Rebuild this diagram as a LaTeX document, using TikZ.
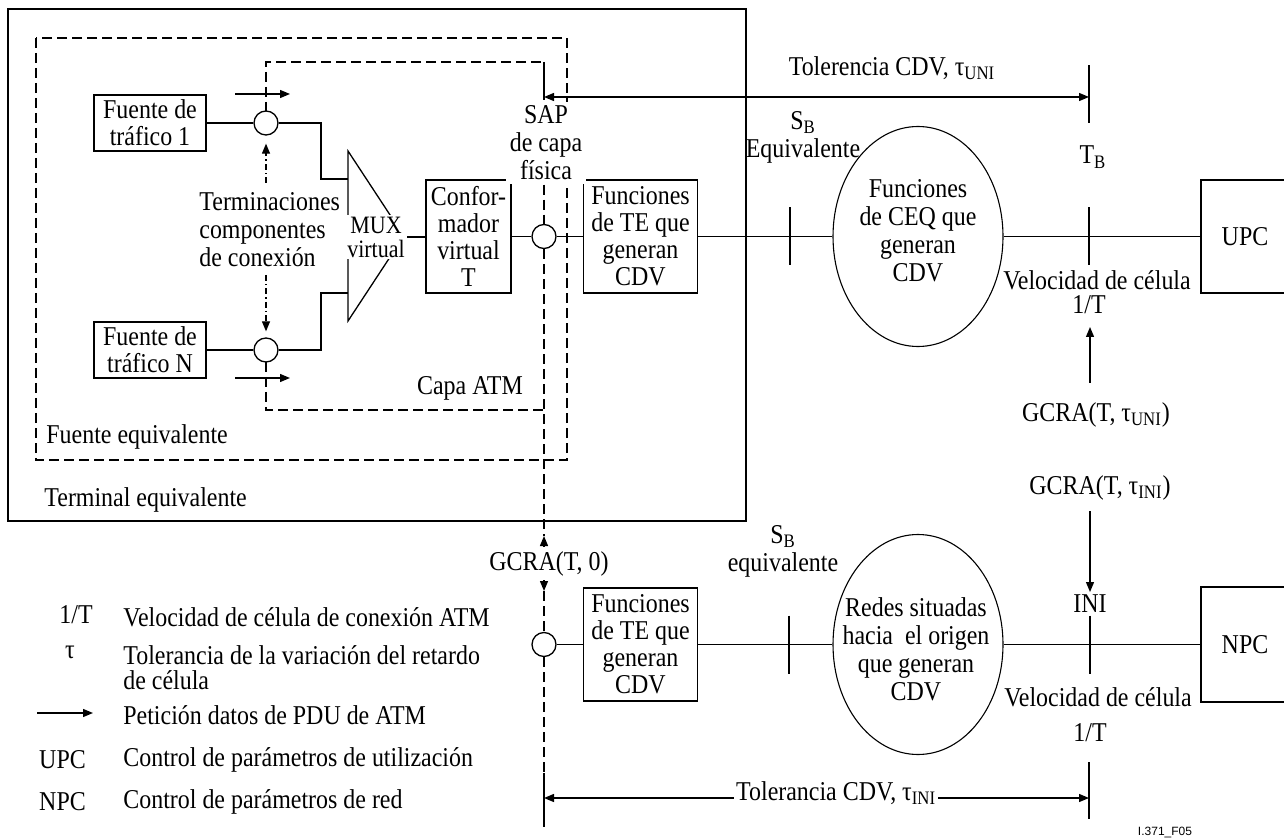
\documentclass[tikz,border=0pt]{standalone}
\usepackage{fontspec}
\setmainfont{Liberation Serif}[FakeStretch=0.88]
\newfontfamily\codefont{Liberation Sans}
\usetikzlibrary{arrows.meta,shapes.geometric,positioning}

\begin{document}
\begin{tikzpicture}[x=0.5pt,y=-0.5pt,>={Triangle[length=5pt,width=4pt]},
    font=\fontsize{13.6}{14}\selectfont,
    wire/.style={line width=0.65pt},
    box/.style={draw,line width=0.65pt,inner sep=1pt,align=center,font=\fontsize{13.6}{13.5}\selectfont},
    junction/.style={draw,circle,line width=0.65pt,minimum size=12pt,inner sep=0pt,fill=white},
    cloud/.style={draw,ellipse,line width=0.55pt,minimum width=85pt,minimum height=110pt,inner sep=0pt},
    refline/.style={line width=1.4pt},
    layer/.style={line width=1pt,dash pattern=on 5pt off 2.5pt},
    hint/.style={line width=0.6pt,dash pattern=on 3pt off 1.5pt on 0.7pt off 1.5pt},
    lbl/.style={inner sep=1pt,align=center}]

\useasboundingbox (0,0) rectangle (1284,839);

% ===== EQUIVALENT TERMINAL / SOURCE FRAMES =====
\draw[wire] (8,9) rectangle (746,521);
\draw[layer] (36,38) rectangle (567,460);
% ATM layer frame
\draw[layer] (541,62) -- (266,62) -- (266,111);
\draw[layer] (266,362) -- (266,410) -- (544,410);
\draw[line width=1pt] (544,62) -- (544,100);

\node[lbl,anchor=west] (fueq) at (44,437) {Fuente equivalente};
\node[lbl] (capa) at (470,388) {Capa ATM};
\node[lbl,anchor=west] (termeq) at (42,500) {Terminal equivalente};

% ===== TRAFFIC SOURCES =====
\node[box,minimum width=56pt,minimum height=28pt] (src1) at (150,123) {Fuente de\\tráfico 1};
\node[box,minimum width=56pt,minimum height=28pt] (srcN) at (150,350) {Fuente de\\tráfico N};
\node[junction] (c1) at (266,123) {};
\node[junction] (cN) at (266,350) {};

\coordinate (muxin1) at (348,179);
\coordinate (muxin2) at (348,293);
\draw[wire] (src1) -- (c1);
\draw[wire] (c1) -- ++(55,0) |- (muxin1);
\draw[wire] (srcN) -- (cN);
\draw[wire] (cN) -- ++(55,0) |- (muxin2);

% request arrows
\coordinate (req1) at (235,94);
\coordinate (req2) at (235,378);
\draw[wire,->] (req1) -- ++(55,0);
\draw[wire,->] (req2) -- ++(55,0);

\node[lbl,anchor=west,align=left] (term) at (197,230) {Terminaciones\\componentes\\de conexión};
\coordinate (hint1) at (266,183);
\coordinate (hint2) at (266,275);
\draw[hint,->,shorten >=4pt] (hint1) -- (c1.south);
\draw[hint,->,shorten >=3pt] (hint2) -- (cN.north);

% ===== MUX AND SHAPER =====
\draw[wire] (348,151) -- (394,221) -- (394,251) -- (348,321) -- cycle;
\node[lbl,fill=white,font=\fontsize{12.5}{12}\selectfont] (mux) at (376,237) {MUX\\virtual};

\node[box,minimum width=42.5pt,minimum height=56.5pt] (conf) at (468.5,236.5) {Confor-\\mador\\virtual\\T};
\draw[wire] (mux.east) -- (mux.east -| conf.west);

\node[junction] (c3) at (544,236.5) {};
\node[box,minimum width=57pt,minimum height=56.5pt] (fte1) at (640.5,236.5) {Funciones\\de TE que\\generan\\CDV};
\draw[wire] (conf) -- (c3);
\draw[wire] (c3) -- (fte1);

\node[lbl,fill=white,inner sep=2pt] (sap) at (546,143) {SAP\\de capa\\física};

% ===== PHYSICAL LAYER SAP LINE =====
\coordinate (up0) at (544,536);
\coordinate (up0b) at (544,546);
\coordinate (dn0) at (544,591);
\coordinate (dn0b) at (544,580);
\draw[layer] (sap.south -| c3) -- (c3);
\draw[layer] (c3) -- (up0);
\node[lbl] (gcra0) at (549,564) {GCRA(T, 0)};
\draw[wire,->] (up0b) -- (up0);
\draw[wire,->] (dn0b) -- (dn0);

% ===== UNI SIDE =====
\coordinate (sb1) at (790,236.5);
\coordinate (tb1) at (1089,236.5);
\node[cloud] (ceq1) at (918,236.5) {};
\node[lbl] at (918,231) {Funciones\\de CEQ que\\generan\\CDV};
\node[box,minimum width=44pt,minimum height=56.5pt] (upc) at (1245,236.5) {UPC};
\draw[wire] (fte1) -- (ceq1);
\draw[wire] (ceq1) -- (upc);
\draw[refline] (sb1) ++(0,-29) -- ++(0,58);
\draw[refline] (tb1) ++(0,-29) -- ++(0,58);

\node[lbl] (sb1lbl) at (803,137) {S\textsubscript{B}\\Equivalente};
\node[lbl] (tb1lbl) at (1093,157) {T\textsubscript{B}};

\coordinate (sapref) at (544,97);
\coordinate (tolU) at (1089,97);
\draw[refline] (tolU) ++(0,-31.5) -- ++(0,57.5);
\draw[wire,<->] (sapref) -- (tolU);
\node[lbl] (tolUlbl) at (892,68) {Tolerencia CDV, τ\textsubscript{UNI}};

\node[lbl] (vel1) at (1097,280) {Velocidad de célula};
\node[lbl] (rate1) at (1089,305) {1/T};
\node[lbl] (gcrauni) at (1096,415) {GCRA(T, τ\textsubscript{UNI})};
\node[lbl] (gcraini) at (1100,488) {GCRA(T, τ\textsubscript{INI})};
\coordinate (unifrom) at (1090,383);
\coordinate (unito) at (1090,327);
\draw[wire,->] (unifrom) -- (unito);

% ===== INI SIDE =====
\node[lbl] (ini) at (1090,604) {INI};
\coordinate (inifrom) at (1090,511);
\coordinate (inito) at (1090,592);
\draw[wire,->] (inifrom) -- (inito);

\node[junction] (c4) at (544,644.5) {};
\node[box,minimum width=57pt,minimum height=56.5pt] (fte2) at (640.5,644.5) {Funciones\\de TE que\\generan\\CDV};
\node[cloud] (red) at (918,644.5) {};
\node[lbl] at (916,649) {Redes situadas\\hacia~ el origen\\que generan\\CDV};
\node[box,minimum width=44pt,minimum height=57.5pt] (npc) at (1245,644.5) {NPC};
\draw[layer] (dn0) -- (c4);
\draw[wire] (c4) -- (fte2);
\draw[wire] (fte2) -- (red);
\draw[wire] (red) -- (npc);

\coordinate (sb2) at (789,644.5);
\coordinate (ini2) at (1090,644.5);
\draw[refline] (sb2) ++(0,-29) -- ++(0,58);
\draw[refline] (ini2) ++(0,-29) -- ++(0,58);

\node[lbl] (sb2lbl) at (783,551.5) {S\textsubscript{B}\\equivalente};
\node[lbl] (vel2) at (1098,697) {Velocidad de célula};
\node[lbl] (rate2) at (1090,733) {1/T};

% bottom tolerance
\coordinate (tolL) at (544,798);
\coordinate (tolR) at (1089,798);
\draw[layer] (c4) -- ++(0,128.5);
\draw[refline] (tolL) ++(0,-25) -- ++(0,54);
\draw[refline] (tolR) ++(0,-36) -- ++(0,56.5);
\draw[wire,<->] (tolL) -- (tolR) node[pos=0.536,fill=white,inner sep=1pt,yshift=2.5pt] {Tolerancia CDV, τ\textsubscript{INI}};

% ===== LEGEND =====
\node[lbl] (k1) at (76,615) {1/T};
\node[lbl,anchor=west] (k1t) at (121,617) {Velocidad de célula de conexión ATM};
\node[lbl] (k2) at (70,652) {τ};
\node[lbl,anchor=west,align=left,font=\fontsize{13.6}{12.5}\selectfont] (k2t) at (121,668) {Tolerancia de la variación del retardo\\de célula};
\coordinate (k3) at (37,713);
\draw[wire,->] (k3) -- ++(56,0);
\node[lbl,anchor=west] (k3t) at (121,715) {Petición datos de PDU de ATM};
\node[lbl] (k4) at (62.5,760) {UPC};
\node[lbl,anchor=west] (k4t) at (121,760) {Control de parámetros de utilización};
\node[lbl] (k5) at (62.5,802) {NPC};
\node[lbl,anchor=west] (k5t) at (121,802) {Control de parámetros de red};

\node[font=\codefont\fontsize{6}{7}\selectfont] (fig) at (1165,832) {I.371\_F05};

\end{tikzpicture}
\end{document}
